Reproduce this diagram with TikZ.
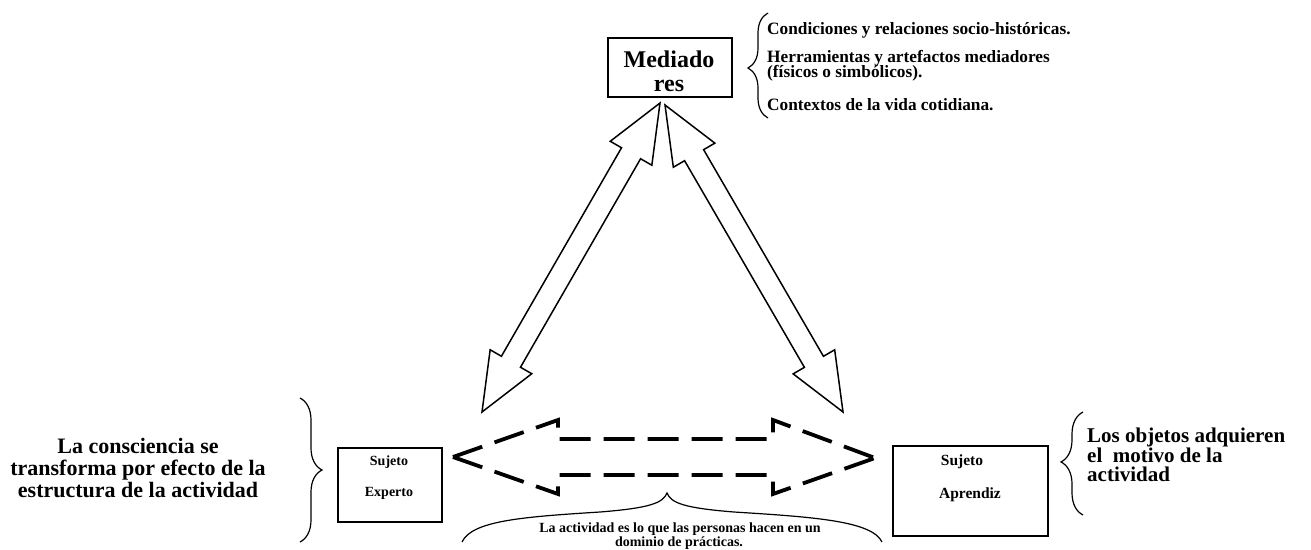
\documentclass[tikz,border=0pt]{standalone}
\usepackage{fontspec}
\setmainfont{Liberation Serif}
\usetikzlibrary{calc,decorations.pathreplacing}

% bold serif at a given size and leading
\newcommand{\setfs}[2]{\fontsize{#1}{#2}\selectfont\bfseries}

% outlined double-headed arrow between two named coordinates
\newcommand{\hollowdbl}[2]{%
  \draw[hollow] (#1)
    -- ($(#1)!58pt!(#2)!24pt!90:(#2)$)
    -- ($(#1)!58pt!(#2)!11pt!90:(#2)$)
    -- ($(#2)!58pt!(#1)!11pt!-90:(#1)$)
    -- ($(#2)!58pt!(#1)!24pt!-90:(#1)$)
    -- (#2)
    -- ($(#2)!58pt!(#1)!24pt!90:(#1)$)
    -- ($(#2)!58pt!(#1)!11pt!90:(#1)$)
    -- ($(#1)!58pt!(#2)!11pt!-90:(#2)$)
    -- ($(#1)!58pt!(#2)!24pt!-90:(#2)$)
    -- cycle;}

\tikzset{
  box/.style={draw, line width=1.8pt, inner sep=0pt},
  txt/.style={inner sep=0pt, anchor=base},
  txtl/.style={inner sep=0pt, anchor=base west},
  hollow/.style={draw, line width=1.5pt, line join=miter, fill=white},
  dasharrow/.style={line width=3.8pt, dash pattern=on 31pt off 13pt, line join=miter},
  brc/.style={decorate, line width=1.2pt},
  thinline/.style={line width=1.2pt},
}

\begin{document}
\begin{tikzpicture}[x=1pt, y=-1pt]
  \fill[white] (0,0) rectangle (1311,549);
  \useasboundingbox (0,0) rectangle (1311,549);

  % ---- Mediadores ----
  \node[box, minimum width=124pt, minimum height=59pt] (med) at (670,67.5) {};
  \node[txt, font=\setfs{24}{24}] (med1) at (669,67) {Mediado};
  \node[txt, font=\setfs{24}{24}] (med2) at (669,91) {res};

  \draw[brc, decoration={brace, amplitude=20pt, aspect=0.476}] (768,118) -- (768,13);
  \node[txtl, font=\setfs{17.3}{17}] (c1) at (767,34) {Condiciones y relaciones socio-históricas.};
  \node[txtl, font=\setfs{17.3}{17}] (c2) at (767,62) {Herramientas y artefactos mediadores};
  \node[txtl, font=\setfs{17.3}{17}] (c3) at (767,77) {(físicos o simbólicos).};
  \node[txtl, font=\setfs{17.3}{17}] (c4) at (767,110) {Contextos de la vida cotidiana.};

  % ---- Sujeto Experto ----
  \node[box, minimum width=104pt, minimum height=74pt] (exp) at (390,485) {};
  \node[txt, font=\setfs{14}{14}] (exp1) at (389,465) {Sujeto};
  \node[txt, font=\setfs{14}{14}] (exp2) at (389,496) {Experto};

  \draw[brc, decoration={brace, amplitude=22pt, aspect=0.5}] (300,398) -- (300,542);
  \node[txt, font=\setfs{22}{22}] (l1) at (138,453) {La consciencia se};
  \node[txt, font=\setfs{22}{22}] (l2) at (138,475) {transforma por efecto de la};
  \node[txt, font=\setfs{22}{22}] (l3) at (138,497) {estructura de la actividad};

  % ---- Sujeto Aprendiz ----
  \node[box, minimum width=155pt, minimum height=90pt] (apr) at (970.5,491) {};
  \node[txt, font=\setfs{15.5}{15.5}] (apr1) at (962,465) {Sujeto};
  \node[txt, font=\setfs{15.5}{15.5}] (apr2) at (970,498) {Aprendiz};

  \draw[brc, decoration={brace, amplitude=22pt, aspect=0.515}] (1083,515) -- (1083,412);
  \node[txtl, font=\setfs{21}{21}] (r1) at (1087,442) {Los objetos adquieren};
  \node[txtl, font=\setfs{21}{21}] (r2) at (1087,462) {el\ \ motivo de la};
  \node[txtl, font=\setfs{21}{21}] (r3) at (1087,481) {actividad};

  % ---- mediation arrows ----
  \coordinate (mL) at (660,103);
  \coordinate (eT) at (482,412);
  \coordinate (mR) at (665,105);
  \coordinate (aT) at (843,412);
  \hollowdbl{mL}{eT}
  \hollowdbl{mR}{aT}

  % ---- dashed two-way arrow between the subjects (upper and lower outline) ----
  \coordinate (dL) at (453,457);
  \coordinate (dR) at (875,458);
  \draw[dasharrow] (dL) -- (558,420) -- (558,439) -- (773,439) -- (773,420) -- (dR);
  \draw[dasharrow] (dL) -- (558,494) -- (558,475) -- (773,475) -- (773,494) -- (dR);

  % ---- activity brace and note ----
  \coordinate (bt) at (667,493);
  \draw[thinline] (462,542) .. controls (472,521) and (520,517) .. (600,512)
    .. controls (650,508) and (663,503) .. (bt)
    .. controls (671,503) and (684,508) .. (734,512)
    .. controls (814,517) and (872,521) .. (882,542);
  \node[txt, font=\setfs{14}{14}] (n1) at (680,532) {La actividad es lo que las personas hacen en un};
  \node[txt, font=\setfs{14}{14}] (n2) at (679,546) {dominio de prácticas.};
\end{tikzpicture}
\end{document}
